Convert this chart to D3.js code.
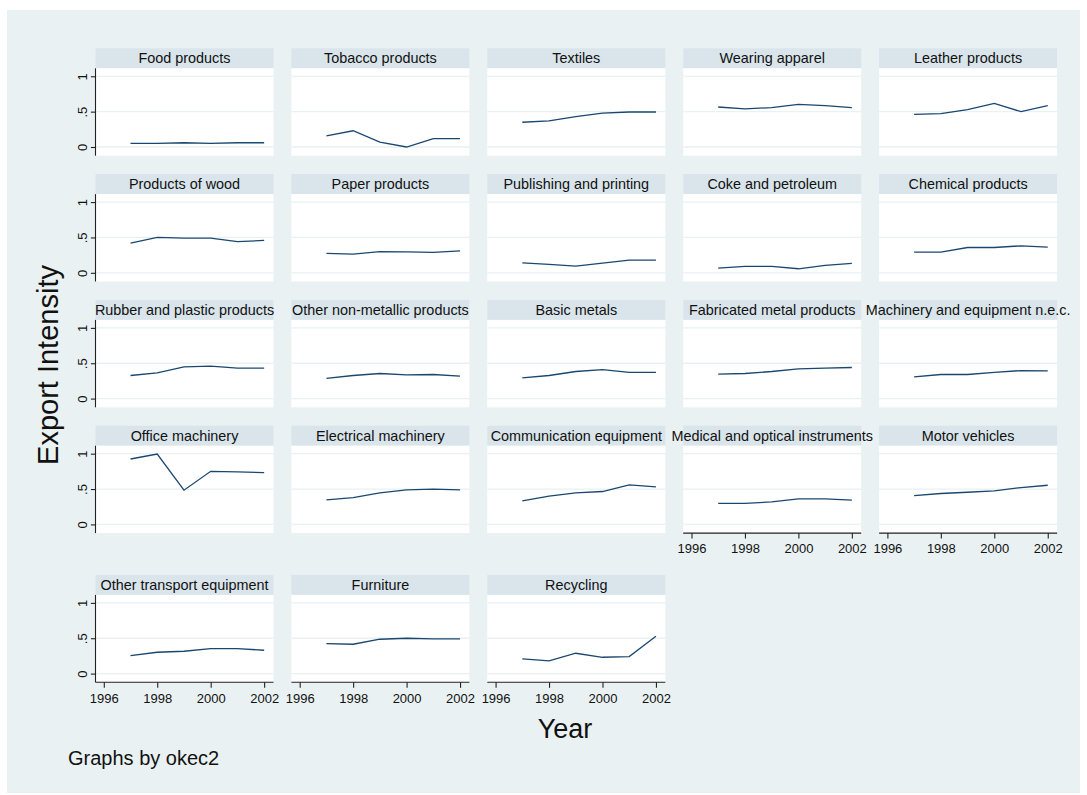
<!DOCTYPE html>
<html>
<head>
<meta charset="utf-8">
<script src="https://cdn.jsdelivr.net/npm/d3@7"></script>
<style>
  body { margin: 0; background: #fff; }
  text { font-family: "Liberation Sans", Arial, sans-serif; fill: #111; }
</style>
</head>
<body>
<svg id="chart" width="1087" height="795"></svg>
<script>
// data: export intensity per industry, 1997-2002
const years = [1997, 1998, 1999, 2000, 2001, 2002]
const industries = [
  "Food products", "Tobacco products", "Textiles", "Wearing apparel", "Leather products",
  "Products of wood", "Paper products", "Publishing and printing", "Coke and petroleum", "Chemical products",
  "Rubber and plastic products", "Other non-metallic products", "Basic metals", "Fabricated metal products", "Machinery and equipment n.e.c.",
  "Office machinery", "Electrical machinery", "Communication equipment", "Medical and optical instruments", "Motor vehicles",
  "Other transport equipment", "Furniture", "Recycling"
]
const food = [0.05, 0.05, 0.06, 0.05, 0.06, 0.06]
const tobacco = [0.156, 0.23, 0.07, 0.0, 0.118, 0.118]
const textiles = [0.35, 0.37, 0.43, 0.48, 0.495, 0.495]
const apparel = [0.566, 0.54, 0.557, 0.604, 0.585, 0.557]
const leather = [0.462, 0.472, 0.528, 0.618, 0.5, 0.585]
const wood = [0.42, 0.5, 0.49, 0.49, 0.44, 0.458]
const paper = [0.274, 0.264, 0.30, 0.297, 0.288, 0.311]
const publishing = [0.14, 0.118, 0.094, 0.137, 0.179, 0.179]
const coke = [0.066, 0.09, 0.09, 0.057, 0.104, 0.132]
const chemical = [0.292, 0.292, 0.358, 0.358, 0.382, 0.363]
const rubber = [0.327, 0.364, 0.449, 0.458, 0.43, 0.43]
const nonmetallic = [0.285, 0.327, 0.355, 0.336, 0.341, 0.318]
const basic_metals = [0.294, 0.327, 0.383, 0.41, 0.37, 0.37]
const fabricated = [0.346, 0.355, 0.383, 0.42, 0.43, 0.44]
const machinery = [0.308, 0.341, 0.341, 0.37, 0.397, 0.393]
const office = [0.925, 0.995, 0.484, 0.751, 0.742, 0.732]
const electrical = [0.347, 0.38, 0.446, 0.488, 0.498, 0.488]
const communication = [0.333, 0.4, 0.446, 0.465, 0.559, 0.53]
const medical = [0.296, 0.296, 0.319, 0.361, 0.361, 0.343]
const motor = [0.408, 0.437, 0.455, 0.474, 0.521, 0.554]
const other_transport = [0.255, 0.302, 0.316, 0.354, 0.354, 0.33]
const furniture = [0.425, 0.415, 0.486, 0.5, 0.491, 0.49]
const recycling = [0.208, 0.179, 0.288, 0.231, 0.24, 0.528]
const series = [food, tobacco, textiles, apparel, leather, wood, paper, publishing, coke, chemical,
  rubber, nonmetallic, basic_metals, fabricated, machinery, office, electrical, communication,
  medical, motor, other_transport, furniture, recycling]

const yTicks = [0, 0.5, 1]
const yTickLabels = ["0", ".5", "1"]
const xTicks = [1996, 1998, 2000, 2002]

// layout
const ncol = 5
const panelW = 178, stripH = 20, plotH = 87.4
const colLeft = c => 95.5 + c * 195.9
const rowTop = r => 48.3 + r * 125.8 + (r === 4 ? 23.4 : 0)

const bg = "#eaf1f3", stripFill = "#d9e5eb", gridColor = "#e9f1f3", lineColor = "#1a476f"
const tickFont = 13

const svg = d3.select("#chart")
svg.append("rect").attr("x", 7).attr("y", 10).attr("width", 1073).attr("height", 783).attr("fill", bg)

const x = d3.scaleLinear().domain([1995.69, 2002.35]).range([0, panelW])
const y = d3.scaleLinear().domain([-0.123, 1.113]).range([plotH, 0])

const line = d3.line().x((d, i) => x(years[i])).y(d => y(d))

industries.forEach((name, i) => {
  const r = Math.floor(i / ncol), c = i % ncol
  const g = svg.append("g").attr("transform", `translate(${colLeft(c)},${rowTop(r)})`)

  g.append("rect").attr("width", panelW).attr("height", stripH).attr("fill", stripFill)
  g.append("text")
    .attr("x", panelW / 2).attr("y", 15)
    .attr("text-anchor", "middle")
    .style("font-size", "14.4px")
    .text(name)

  const p = g.append("g").attr("transform", `translate(0,${stripH})`)
  p.append("rect").attr("width", panelW).attr("height", plotH).attr("fill", "#fff")

  p.selectAll("line.grid").data(yTicks).join("line")
    .attr("class", "grid")
    .attr("x1", 0).attr("x2", panelW)
    .attr("y1", d => y(d)).attr("y2", d => y(d))
    .attr("stroke", gridColor).attr("stroke-width", 1.3)

  p.append("path")
    .datum(series[i])
    .attr("d", line)
    .attr("fill", "none")
    .attr("stroke", lineColor)
    .attr("stroke-width", 1.3)

  // y axis only on the first column
  if (c === 0) {
    const ya = p.append("g").call(
      d3.axisLeft(y).tickValues(yTicks).tickSize(4.6).tickSizeOuter(0)
        .tickFormat((d, k) => yTickLabels[k])
    )
    ya.attr("font-size", tickFont).attr("font-family", "Liberation Sans, Arial, sans-serif")
    ya.select(".domain").attr("d", `M0,0V${plotH}`).attr("stroke", "#222").attr("stroke-width", 1.1)
    ya.selectAll(".tick line").attr("stroke", "#222").attr("stroke-width", 1.1)
    ya.selectAll(".tick text")
      .attr("x", null).attr("dy", "0.35em")
      .attr("transform", "translate(-13,0) rotate(-90)")
      .attr("text-anchor", "middle")
      .style("font-size", tickFont + "px")
      .attr("fill", "#111")
  }

  // x axis on panels that have nothing below them
  if (i + ncol >= industries.length) {
    const xa = p.append("g").attr("transform", `translate(0,${plotH})`).call(
      d3.axisBottom(x).tickValues(xTicks).tickSize(5.5).tickSizeOuter(0).tickFormat(d3.format("d"))
    )
    xa.attr("font-size", tickFont).attr("font-family", "Liberation Sans, Arial, sans-serif")
    xa.select(".domain").attr("d", `M0,0H${panelW}`).attr("stroke", "#222").attr("stroke-width", 1.1)
    xa.selectAll(".tick line").attr("stroke", "#222").attr("stroke-width", 1.1)
    xa.selectAll(".tick text")
      .attr("y", 15.7).attr("dy", "0.35em")
      .style("font-size", tickFont + "px")
      .attr("fill", "#111")
  }
})

// axis titles and note
svg.append("text")
  .attr("transform", "translate(58,365) rotate(-90)")
  .attr("text-anchor", "middle")
  .style("font-size", "29px")
  .text("Export Intensity")

svg.append("text")
  .attr("x", 565).attr("y", 738)
  .attr("text-anchor", "middle")
  .style("font-size", "27px")
  .text("Year")

svg.append("text")
  .attr("x", 68).attr("y", 765)
  .style("font-size", "20px")
  .text("Graphs by okec2")
</script>
</body>
</html>
